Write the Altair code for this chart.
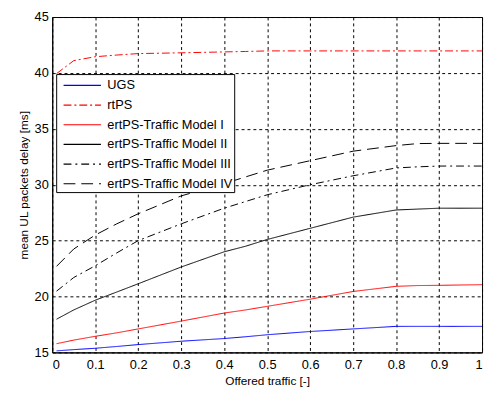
import altair as alt
import pandas as pd

x_vals = [0.01, 0.05, 0.1, 0.15, 0.2, 0.3, 0.4, 0.45, 0.5, 0.6, 0.7, 0.8, 0.85, 0.9, 1.0]

series_names = ["UGS", "rtPS", "ertPS-Traffic Model I", "ertPS-Traffic Model II",
                "ertPS-Traffic Model III", "ertPS-Traffic Model IV"]

ugs = [15.14, 15.25, 15.37, 15.53, 15.70, 16.00, 16.24, 16.40, 16.58, 16.87, 17.10, 17.33, 17.33, 17.33, 17.33]
rtps = [39.94, 41.10, 41.45, 41.60, 41.73, 41.80, 41.88, 41.92, 41.97, 41.97, 41.97, 41.97, 41.97, 41.97, 41.97]
ert1 = [15.78, 16.10, 16.44, 16.75, 17.10, 17.80, 18.52, 18.80, 19.12, 19.76, 20.45, 20.91, 20.98, 21.00, 21.06]
ert2 = [17.97, 18.80, 19.67, 20.40, 21.14, 22.64, 24.00, 24.50, 25.10, 26.10, 27.10, 27.74, 27.82, 27.90, 27.90]
ert3 = [20.48, 21.70, 22.75, 23.90, 25.00, 26.50, 27.90, 28.50, 29.10, 30.00, 30.80, 31.50, 31.60, 31.67, 31.67]
ert4 = [22.70, 24.25, 25.50, 26.50, 27.40, 29.00, 30.10, 30.70, 31.30, 32.15, 33.00, 33.50, 33.68, 33.70, 33.70]

all_vals = [ugs, rtps, ert1, ert2, ert3, ert4]
colors = ["#0000FF", "#FF0000", "#FF0000", "#000000", "#000000", "#000000"]
dashes = [[1, 0], [8, 3, 2, 3], [1, 0], [1, 0], [8, 4, 2, 4], [12, 6]]

rows = []
for name, vals in zip(series_names, all_vals):
    for xv, yv in zip(x_vals, vals):
        rows.append({"x": xv, "y": yv, "series": name})
df = pd.DataFrame(rows)

font = "Liberation Sans"

legend = alt.Legend(
    title=None, orient="none", legendX=4, legendY=58,
    fillColor="white", strokeColor="black", padding=1,
    symbolType="M-2,0H2", symbolSize=361, symbolStrokeWidth=1.2,
    labelFont=font, labelFontSize=13, labelColor="black",
    rowPadding=2, symbolOffset=15, labelOffset=15, labelLimit=300,
)

chart = alt.Chart(df).mark_line(strokeWidth=1, clip=True).encode(
    x=alt.X("x:Q", scale=alt.Scale(domain=[0, 1], nice=False),
            axis=alt.Axis(title="Offered traffic [-]", values=[i / 10 for i in range(11)],
                          labelExpr="datum.value == 0 ? '0' : datum.value == 1 ? '1' : format(datum.value, '.1f')")),
    y=alt.Y("y:Q", scale=alt.Scale(domain=[15, 45], nice=False),
            axis=alt.Axis(title="mean UL packets delay [ms]", values=[15, 20, 25, 30, 35, 40, 45])),
    color=alt.Color("series:N", scale=alt.Scale(domain=series_names, range=colors), legend=legend, sort=series_names),
    strokeDash=alt.StrokeDash("series:N", scale=alt.Scale(domain=series_names, range=dashes), legend=legend, sort=series_names),
    detail="series:N",
).properties(
    width=437, height=341,
    padding={"left": 45, "top": 6, "right": 3, "bottom": 33},
    autosize=alt.AutoSizeParams(type="none"),
    background="white",
).configure_view(
    stroke="black", strokeWidth=1,
).configure_axis(
    labelFont=font, labelFontSize=13, labelColor="black",
    titleFont=font, titleFontSize=12, titleColor="black", titleFontWeight="normal",
    domainColor="black", ticks=False, labelPadding=4,
    grid=True, gridColor="black", gridDash=[3, 3], gridOpacity=1, gridWidth=1,
).configure_axisX(titlePadding=5, labelPadding=6).configure_axisY(titlePadding=4)

chart.save("out.html", embed_options={"renderer": "svg", "actions": False})
